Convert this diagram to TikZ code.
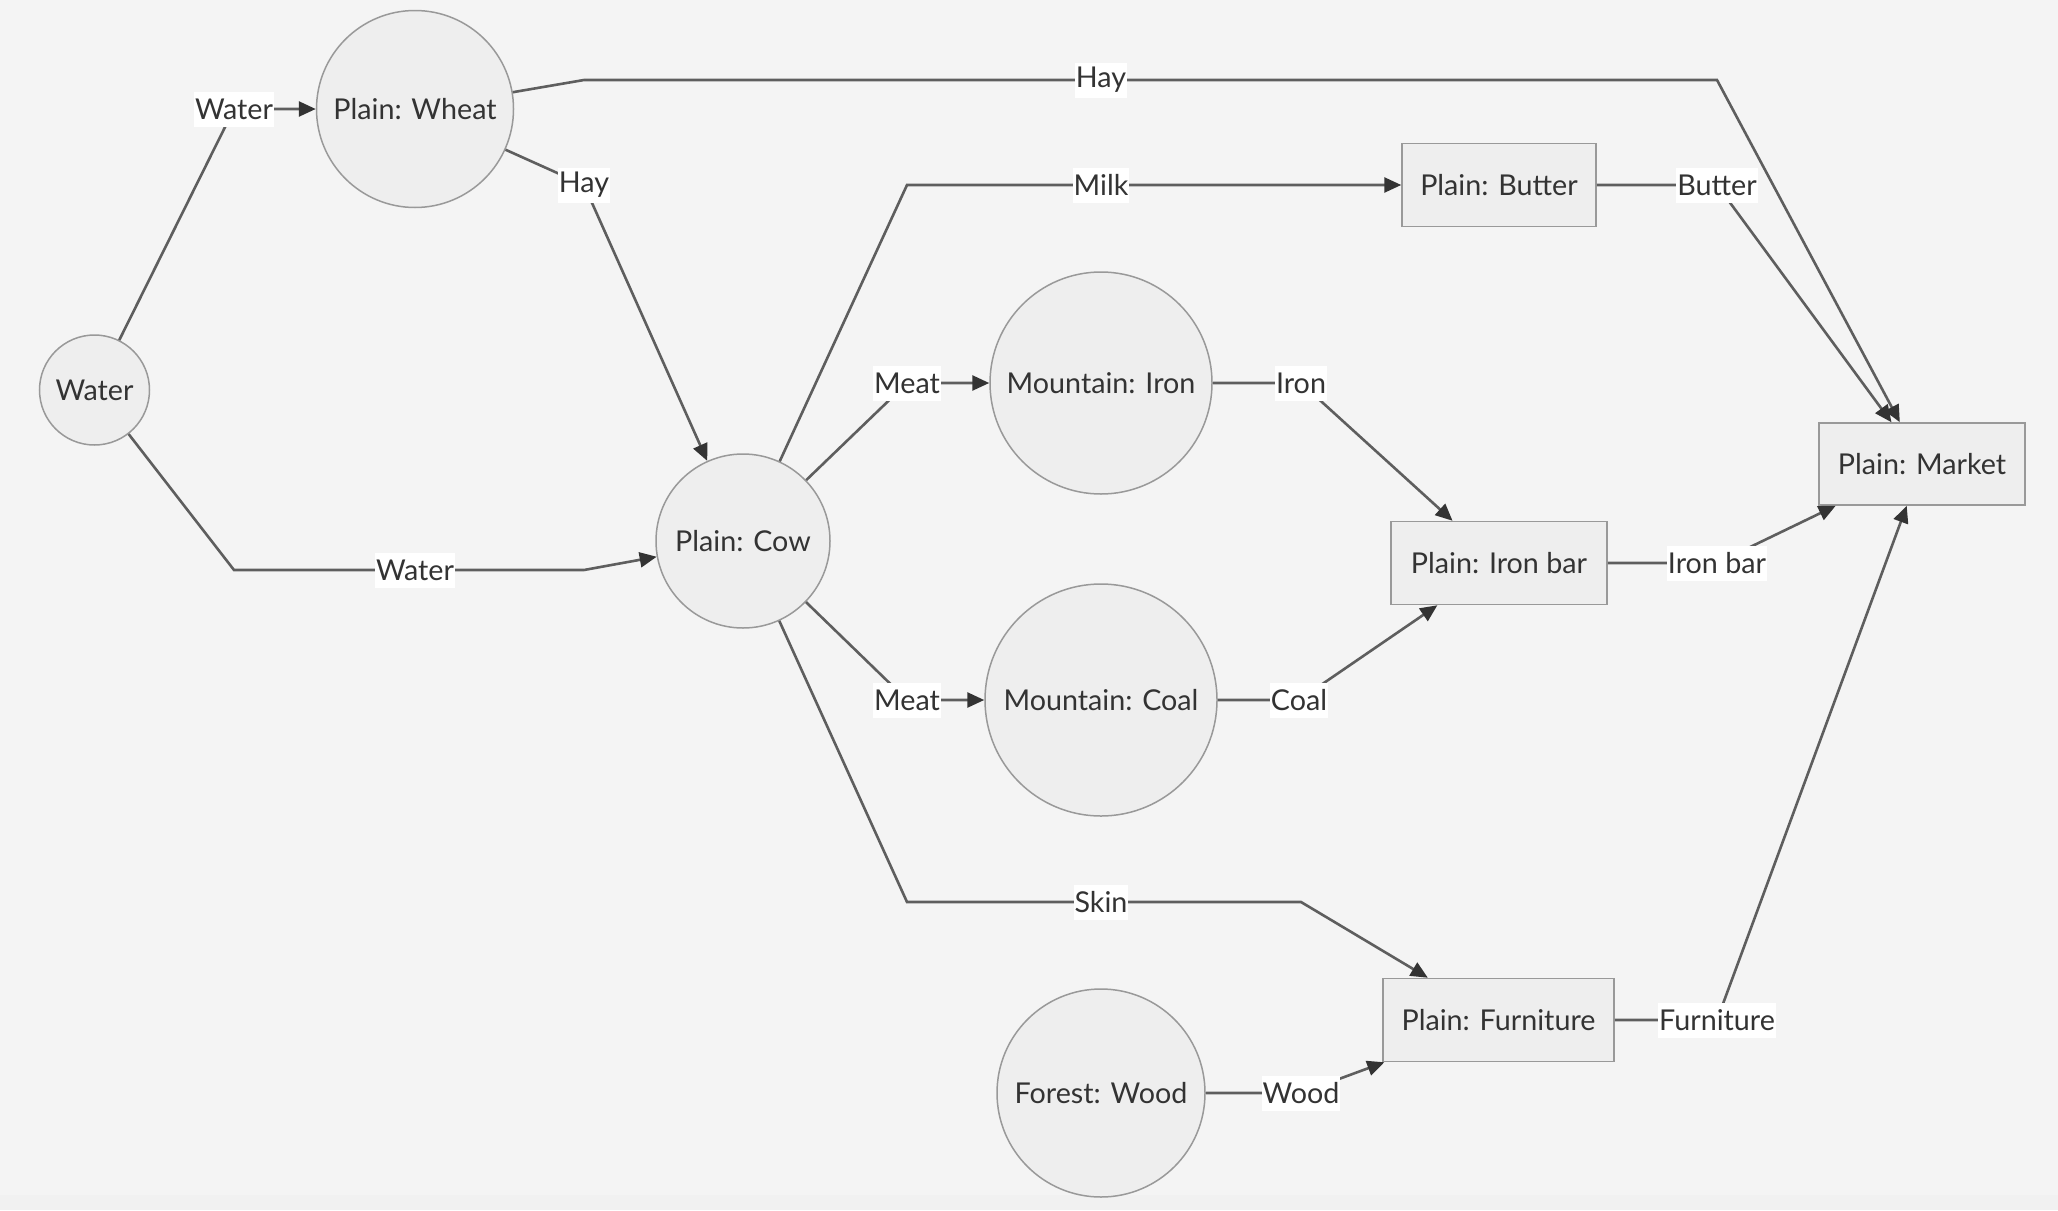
\documentclass[tikz,border=0pt]{standalone}
\usepackage{fontspec}
\setmainfont{Lato}
\usetikzlibrary{arrows.meta}
\definecolor{bgc}{HTML}{F4F4F4}
\definecolor{bandc}{HTML}{F1F1F1}
\definecolor{nodefill}{HTML}{EEEEEE}
\definecolor{nodestroke}{HTML}{999999}
\definecolor{linec}{HTML}{5E5E5E}
\definecolor{tipc}{HTML}{333333}
\definecolor{textc}{HTML}{333333}
\tikzset{
  base/.style={draw=nodestroke, fill=nodefill, line width=1.5pt, text=textc, font=\fontsize{28.7}{34}\selectfont, inner sep=0pt},
  circ/.style={base, circle},
  box/.style={base, rectangle},
  edgelabel/.style={fill=white, text=textc, font=\fontsize{28.7}{34}\selectfont, inner xsep=1pt, inner ysep=0pt, minimum height=35pt},
  edge/.style={draw=linec, line width=2.6pt},
  arr/.style={edge, -{Triangle[length=17pt,width=15pt,color=tipc]}},
}
\begin{document}
\begin{tikzpicture}[x=1pt,y=-1pt]
\fill[bgc] (0,0) rectangle (2058,1210);
\fill[bandc] (0,1195) rectangle (2058,1210);
\useasboundingbox (0,0) rectangle (2058,1210);

% nodes
\node[circ, minimum size=110pt] (water) at (94.5,390) {Water};
\node[circ, minimum size=197pt] (wheat) at (415,109) {Plain: Wheat};
\node[circ, minimum size=174pt] (cow) at (743,541) {Plain: Cow};
\node[circ, minimum size=222pt] (iron) at (1101,383) {Mountain: Iron};
\node[circ, minimum size=232pt] (coal) at (1101,700) {Mountain: Coal};
\node[circ, minimum size=208pt] (wood) at (1101,1093) {Forest: Wood};
\node[box, minimum width=194pt, minimum height=83pt] (butter) at (1499,185) {Plain: Butter};
\node[box, minimum width=216pt, minimum height=83pt] (ironbar) at (1499,563) {Plain: Iron bar};
\node[box, minimum width=231pt, minimum height=83pt] (furniture) at (1498.5,1020) {Plain: Furniture};
\node[box, minimum width=206pt, minimum height=82pt] (market) at (1922,464) {Plain: Market};

% label positions and bends
\coordinate (p1) at (234,109);
\coordinate (b2a) at (234,570);
\coordinate (p2) at (415,570);
\coordinate (b2b) at (584,570);
\coordinate (p3) at (584,185);
\coordinate (b4a) at (584,80);
\coordinate (p4) at (1101,80);
\coordinate (b4b) at (1717,80);
\coordinate (b5) at (907,185);
\coordinate (p5) at (1101,185);
\coordinate (p6) at (1717,185);
\coordinate (p7) at (907,383);
\coordinate (p8) at (907,700);
\coordinate (p9) at (1301,383);
\coordinate (p10) at (1299,700);
\coordinate (p11) at (1717,563);
\coordinate (b12a) at (907,902);
\coordinate (p12) at (1101,902);
\coordinate (b12b) at (1301,902);
\coordinate (p13) at (1301,1093);
\coordinate (p14) at (1717,1020);

% edges
\draw[arr] (water) -- (p1) -- (wheat);
\draw[arr] (water) -- (b2a) -- (p2) -- (b2b) -- (cow);
\draw[arr] (wheat) -- (p3) -- (cow);
\draw[arr] (wheat) -- (b4a) -- (p4) -- (b4b) -- (market);
\draw[arr] (cow) -- (b5) -- (p5) -- (butter);
\draw[arr] (butter) -- (p6) -- (market);
\draw[arr] (cow) -- (p7) -- (iron);
\draw[arr] (cow) -- (p8) -- (coal);
\draw[arr] (iron) -- (p9) -- (ironbar);
\draw[arr] (coal) -- (p10) -- (ironbar);
\draw[arr] (ironbar) -- (p11) -- (market);
\draw[arr] (cow) -- (b12a) -- (p12) -- (b12b) -- (furniture);
\draw[arr] (wood) -- (p13) -- (furniture);
\draw[arr] (furniture) -- (p14) -- (market);

% edge labels
\node[edgelabel] (l1) at (p1) {Water};
\node[edgelabel] (l2) at (p2) {Water};
\node[edgelabel] (l3) at (p3) {Hay};
\node[edgelabel] (l4) at (p4) {Hay};
\node[edgelabel] (l5) at (p5) {Milk};
\node[edgelabel] (l6) at (p6) {Butter};
\node[edgelabel] (l7) at (p7) {Meat};
\node[edgelabel] (l8) at (p8) {Meat};
\node[edgelabel] (l9) at (p9) {Iron};
\node[edgelabel] (l10) at (p10) {Coal};
\node[edgelabel] (l11) at (p11) {Iron bar};
\node[edgelabel] (l12) at (p12) {Skin};
\node[edgelabel] (l13) at (p13) {Wood};
\node[edgelabel] (l14) at (p14) {Furniture};
\end{tikzpicture}
\end{document}
